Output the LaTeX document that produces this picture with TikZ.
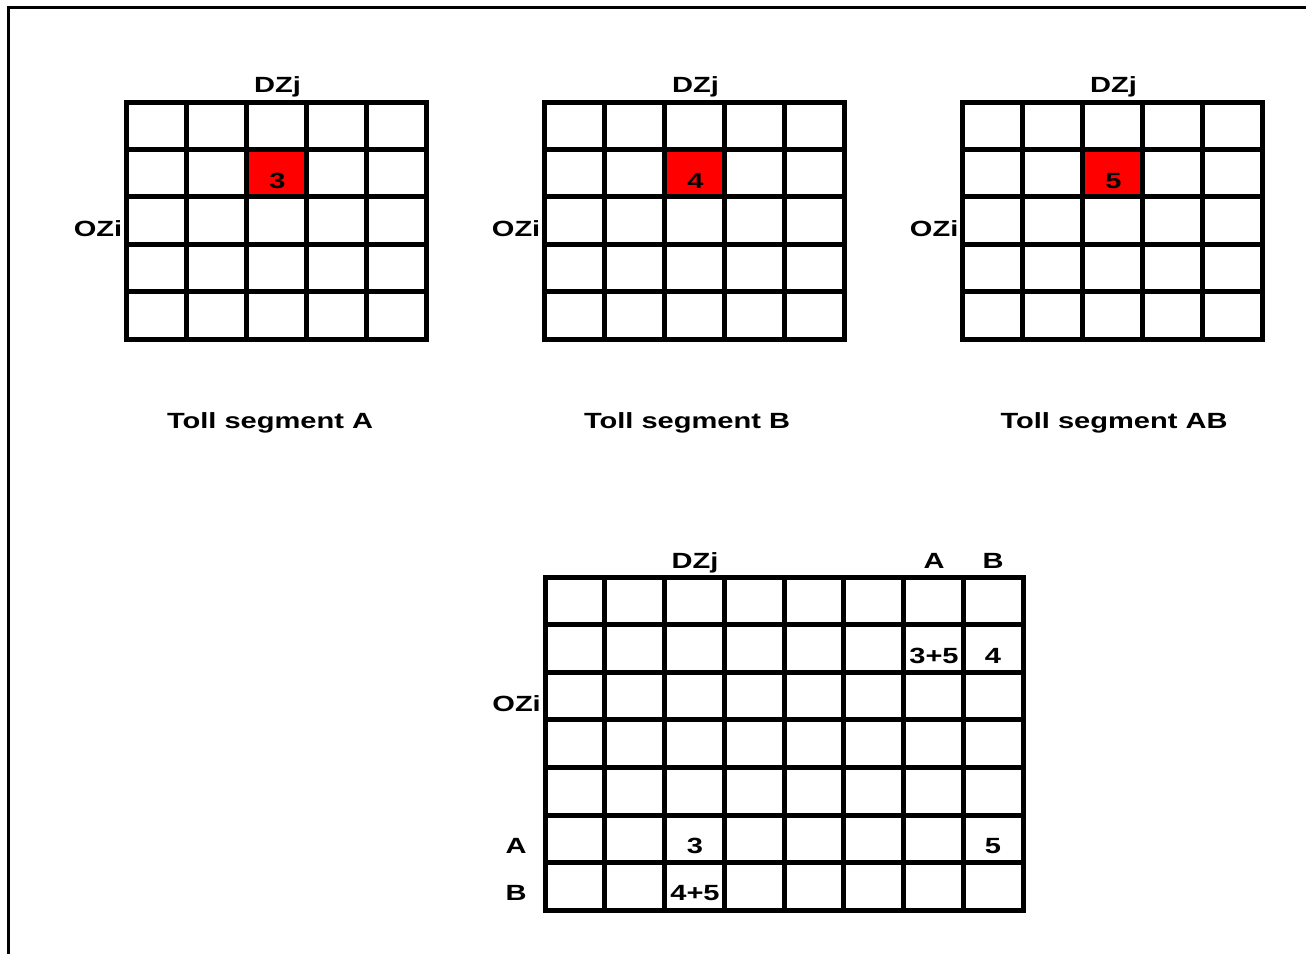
\documentclass[tikz,border=0pt]{standalone}
\usepackage{fontspec}
\newfontfamily\lblfont{Liberation Sans}[FakeStretch=1.32]

\tikzset{
  gridline/.style={black,line width=5pt,line cap=rect},
  frameline/.style={black,line width=3pt},
  lbl/.style={font=\lblfont\bfseries\fontsize{22}{24}\selectfont,inner sep=0pt,anchor=base},
  hotcell/.style={fill=red}
}

\begin{document}
\begin{tikzpicture}[x=1pt,y=-1pt]
  \useasboundingbox (0,0) rectangle (1306,953);
  % frame
  \draw[frameline] (8,960) -- (8,7) -- (1315,7);

  % three small matrices
  \foreach \gx/\num/\seg/\sx in {126.5/3/A/270, 544.5/4/B/687, 962.5/5/AB/1114} {
    \fill[hotcell] (\gx+120,102+47.4) rectangle ++(60,47.4);
    \foreach \i in {0,...,5}
      \draw[gridline] (\gx+\i*60,102) -- (\gx+\i*60,339);
    \foreach \j in {0,...,5}
      \draw[gridline] (\gx,102+\j*47.4) -- (\gx+300,102+\j*47.4);
    \node[lbl] (dz\seg) at (\gx+151,92) {DZj};
    \node[lbl,anchor=base east] (oz\seg) at (\gx-4,236) {OZi};
    \node[lbl] (val\seg) at (\gx+151,188) {\num};
    \node[lbl] (seg\seg) at (\sx,428) {Toll segment \seg};
  }

  % combined matrix
  \foreach \i in {0,...,8}
    \draw[gridline] (545+\i*59.75,577) -- (545+\i*59.75,910);
  \foreach \j in {0,...,7}
    \draw[gridline] (545,577+\j*47.6) -- (1023,577+\j*47.6);

  \node[lbl] (dzC) at (695,568) {DZj};
  \node[lbl] (colA) at (934,568) {A};
  \node[lbl] (colB) at (993,568) {B};
  \node[lbl,anchor=base east] (ozC) at (541,711) {OZi};
  \node[lbl] (rowA) at (516,853) {A};
  \node[lbl] (rowB) at (516,900) {B};

  \node[lbl] (cAA) at (934,663) {3+5};
  \node[lbl] (cAB) at (993,663) {4};
  \node[lbl] (cA3) at (695,853) {3};
  \node[lbl] (cA5) at (993,853) {5};
  \node[lbl] (cB3) at (695,900) {4+5};
\end{tikzpicture}
\end{document}
